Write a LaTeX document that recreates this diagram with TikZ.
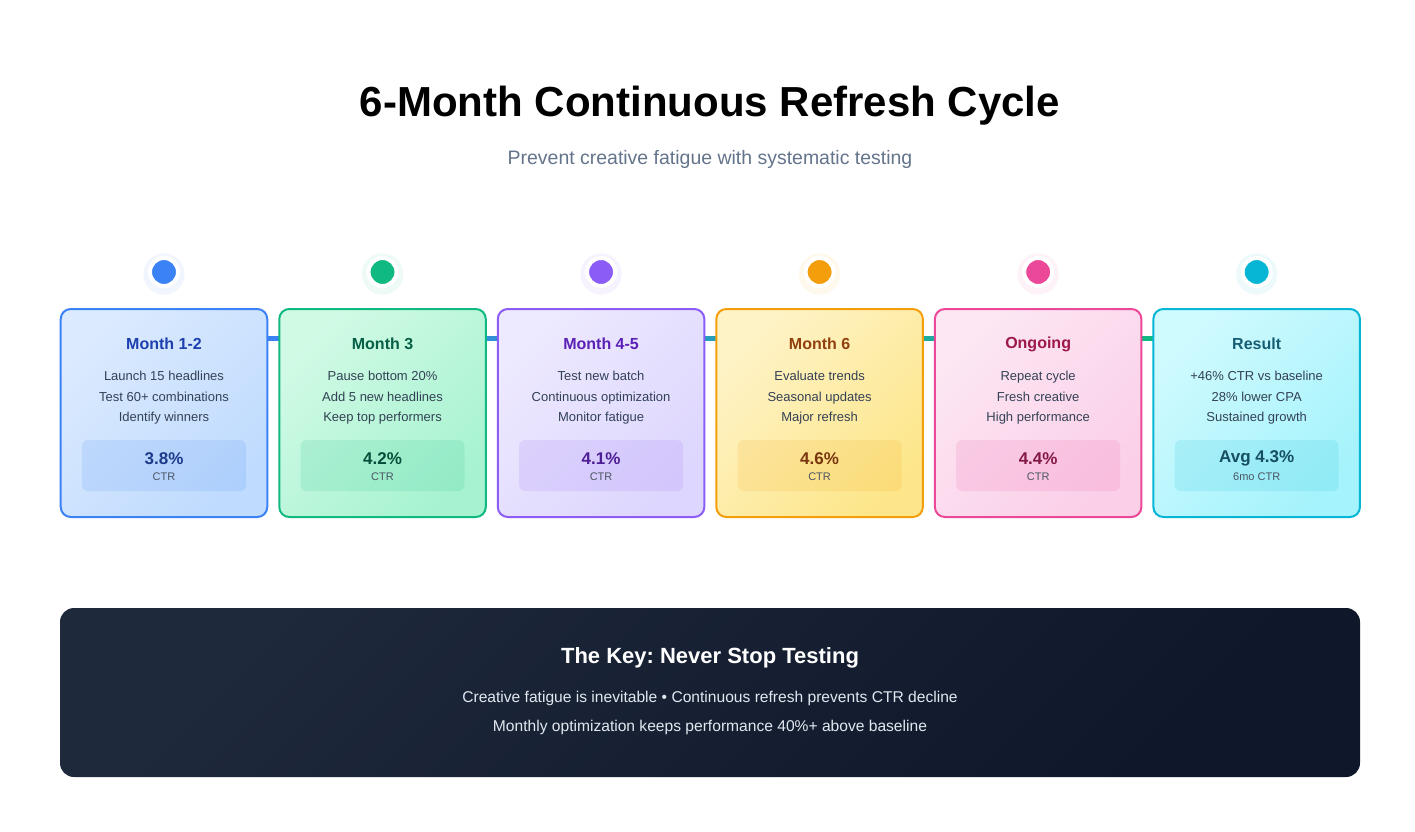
\documentclass[tikz,border=0pt]{standalone}
\usepackage{fontspec}
\setmainfont{Liberation Sans}
\frenchspacing
\usetikzlibrary{positioning, calc, backgrounds}
\definecolor{blueA}{HTML}{3B82F6}
\definecolor{greenA}{HTML}{10B981}
\definecolor{purpleA}{HTML}{8B5CF6}
\definecolor{amberA}{HTML}{F59E0B}
\definecolor{pinkA}{HTML}{EC4899}
\definecolor{cyanA}{HTML}{06B6D4}
% card fills
\definecolor{blueL}{HTML}{DBEAFE}   \definecolor{blueM}{HTML}{BFDBFE}
\definecolor{greenL}{HTML}{D1FAE5}  \definecolor{greenM}{HTML}{A7F3D0}
\definecolor{purpleL}{HTML}{EDE9FE} \definecolor{purpleM}{HTML}{DDD6FE}
\definecolor{amberL}{HTML}{FEF3C7}  \definecolor{amberM}{HTML}{FDE68A}
\definecolor{pinkL}{HTML}{FCE7F3}   \definecolor{pinkM}{HTML}{FBCFE8}
\definecolor{cyanL}{HTML}{CFFAFE}   \definecolor{cyanM}{HTML}{A5F3FC}
% card texts
\definecolor{blueT}{HTML}{1E40AF}   \definecolor{blueD}{HTML}{1E3A8A}
\definecolor{greenT}{HTML}{065F46}  \definecolor{greenD}{HTML}{064E3B}
\definecolor{purpleT}{HTML}{5B21B6} \definecolor{purpleD}{HTML}{4C1D95}
\definecolor{amberT}{HTML}{92400E}  \definecolor{amberD}{HTML}{78350F}
\definecolor{pinkT}{HTML}{9D174D}   \definecolor{pinkD}{HTML}{831843}
\definecolor{cyanT}{HTML}{155E75}   \definecolor{cyanD}{HTML}{164E63}
\definecolor{slateA}{HTML}{334155}
\definecolor{slateB}{HTML}{4B5563}
\definecolor{slateC}{HTML}{64748B}
\definecolor{navyA}{HTML}{1E293B}
\definecolor{navyB}{HTML}{0F172A}
\definecolor{keyText}{HTML}{E2E8F0}
\tikzset{
  card/.style n args={3}{draw=#1, left color=#2, right color=#3, shading angle=45,
    line width=1.5pt, rounded corners=7.5pt, minimum width=154.9pt, minimum height=156pt, outer sep=0pt},
  card title/.style={font=\fontsize{12}{14}\selectfont\bfseries, text=#1},
  body/.style={font=\fontsize{9.75}{15.4}\selectfont, text=slateA, align=center},
  ctr box/.style={fill=#1, fill opacity=0.13, rounded corners=4.5pt, minimum width=123pt,
    minimum height=38.25pt, outer sep=0pt},
  value/.style={font=\fontsize{12.75}{14}\selectfont\bfseries, text=#1},
  ctr/.style={font=\fontsize{8.25}{10}\selectfont, text=slateB},
  dot/.style={circle, fill=#1, draw=white, line width=3pt, minimum size=21pt, inner sep=0pt},
  glow/.style={circle, fill=#1, fill opacity=0.07, minimum size=31pt, inner sep=0pt},
}
\begin{document}
\begin{tikzpicture}[x=0.75pt, y=-0.75pt]
  \path[use as bounding box] (0,0) rectangle (1415,832);
  % Heading
  \node (title) at (710,106) {\fontsize{31.5}{36}\selectfont\bfseries 6-Month Continuous Refresh Cycle};
  \node[text=slateC] (sub) at (710,159) {\fontsize{14.6}{17}\selectfont Prevent creative fatigue with systematic testing};
  % Cards
  \node[card={blueA}{blueL}{blueM}] (c1) at (164,413) {};
  \node[card={greenA}{greenL}{greenM}] [right = 9pt of c1] (c2) {};
  \node[card={purpleA}{purpleL}{purpleM}] [right = 9pt of c2] (c3) {};
  \node[card={amberA}{amberL}{amberM}] [right = 9pt of c3] (c4) {};
  \node[card={pinkA}{pinkL}{pinkM}] [right = 9pt of c4] (c5) {};
  \node[card={cyanA}{cyanL}{cyanM}] [right = 9pt of c5] (c6) {};
  % Timeline
  \begin{scope}[on background layer]
    \fill[white] (0,0) rectangle (1415,832);
    \shade[left color=blueA, right color=greenA] ($(c1.east)+(0,-77)$) rectangle ($(c6.west)+(0,-73)$);
  \end{scope}
  % Dots
  \foreach \c/\col in {c1/blueA, c2/greenA, c3/purpleA, c4/amberA, c5/pinkA, c6/cyanA} {
    \node[glow=\col] (g\c) at ($(\c.north)+(0,-35)$) {};
    \node[dot=\col] (d\c) at ($(\c.north)+(0,-37)$) {};
  }
  % Month 1-2
  \node[card title=blueT] (t1) at ($(c1.north)+(0,35)$) {Month 1-2};
  \node[body] (b1) at ($(c1.north)+(0,89)$) {Launch 15 headlines\\Test 60+ combinations\\Identify winners};
  \node[ctr box=blueA] [above = 19.5pt of c1.south] (v1) {};
  \node[value=blueD] (p1) at ($(v1.center)+(0,-7)$) {3.8\%};
  \node[ctr] (l1) at ($(v1.center)+(0,11)$) {CTR};
  % Month 3
  \node[card title=greenT] (t2) at ($(c2.north)+(0,35)$) {Month 3};
  \node[body] (b2) at ($(c2.north)+(0,89)$) {Pause bottom 20\%\\Add 5 new headlines\\Keep top performers};
  \node[ctr box=greenA] [above = 19.5pt of c2.south] (v2) {};
  \node[value=greenD] (p2) at ($(v2.center)+(0,-7)$) {4.2\%};
  \node[ctr] (l2) at ($(v2.center)+(0,11)$) {CTR};
  % Month 4-5
  \node[card title=purpleT] (t3) at ($(c3.north)+(0,35)$) {Month 4-5};
  \node[body] (b3) at ($(c3.north)+(0,89)$) {Test new batch\\Continuous optimization\\Monitor fatigue};
  \node[ctr box=purpleA] [above = 19.5pt of c3.south] (v3) {};
  \node[value=purpleD] (p3) at ($(v3.center)+(0,-7)$) {4.1\%};
  \node[ctr] (l3) at ($(v3.center)+(0,11)$) {CTR};
  % Month 6
  \node[card title=amberT] (t4) at ($(c4.north)+(0,35)$) {Month 6};
  \node[body] (b4) at ($(c4.north)+(0,89)$) {Evaluate trends\\Seasonal updates\\Major refresh};
  \node[ctr box=amberA] [above = 19.5pt of c4.south] (v4) {};
  \node[value=amberD] (p4) at ($(v4.center)+(0,-7)$) {4.6\%};
  \node[ctr] (l4) at ($(v4.center)+(0,11)$) {CTR};
  % Ongoing
  \node[card title=pinkT] (t5) at ($(c5.north)+(0,35)$) {Ongoing};
  \node[body] (b5) at ($(c5.north)+(0,89)$) {Repeat cycle\\Fresh creative\\High performance};
  \node[ctr box=pinkA] [above = 19.5pt of c5.south] (v5) {};
  \node[value=pinkD] (p5) at ($(v5.center)+(0,-7)$) {4.4\%};
  \node[ctr] (l5) at ($(v5.center)+(0,11)$) {CTR};
  % Result
  \node[card title=cyanT] (t6) at ($(c6.north)+(0,35)$) {Result};
  \node[body] (b6) at ($(c6.north)+(0,89)$) {+46\% CTR vs baseline\\28\% lower CPA\\Sustained growth};
  \node[ctr box=cyanA] [above = 19.5pt of c6.south] (v6) {};
  \node[value=cyanD] (p6) at ($(v6.center)+(0,-7)$) {Avg 4.3\%};
  \node[ctr] (l6) at ($(v6.center)+(0,11)$) {6mo CTR};
  % Key box
  \node[left color=navyA, right color=navyB, shading angle=45, rounded corners=10.5pt,
        minimum width=975pt, minimum height=126.75pt, outer sep=0pt] (key) at (710,692.5) {};
  \node[text=white] (kt) at ($(key.north)+(0,50)$) {\fontsize{16.5}{20}\selectfont\bfseries The Key: Never Stop Testing};
  \node[text=keyText] (k1) at ($(key.north)+(0,90)$) {\fontsize{11.7}{14}\selectfont Creative fatigue is inevitable • Continuous refresh prevents CTR decline};
  \node[text=keyText] (k2) at ($(key.north)+(0,119)$) {\fontsize{11.7}{14}\selectfont Monthly optimization keeps performance 40\%+ above baseline};
\end{tikzpicture}
\end{document}
